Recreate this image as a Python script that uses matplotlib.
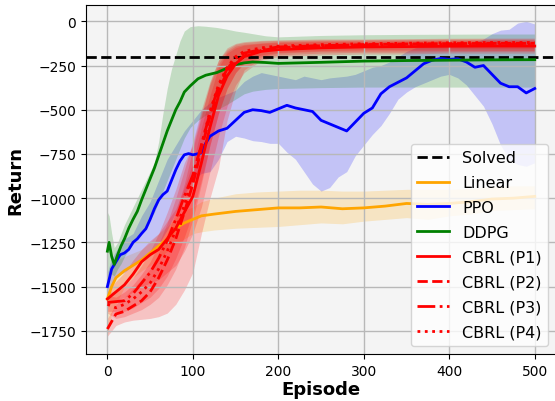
import numpy as np
import matplotlib
matplotlib.use("Agg")
import matplotlib.pyplot as plt

solved = -200

# Linear
lin_ep = [0, 5, 10, 20, 30, 40, 50, 60, 70, 80, 90, 100, 110, 125, 150, 175, 200, 225, 250,
          275, 300, 325, 350, 375, 400, 425, 450, 475, 500]
lin_mean = [-1570, -1500, -1450, -1410, -1380, -1350, -1310, -1270, -1230, -1170, -1140, -1120,
            -1100, -1090, -1075, -1065, -1055, -1055, -1050, -1060, -1055, -1045, -1030, -1035,
            -1030, -1020, -1005, -1000, -990]
lin_lo = [-1780, -1650, -1600, -1500, -1450, -1410, -1380, -1340, -1300, -1260, -1230, -1200,
          -1190, -1180, -1170, -1165, -1160, -1150, -1140, -1145, -1130, -1120, -1110, -1120,
          -1100, -1090, -1070, -1065, -1060]
lin_hi = [-1450, -1400, -1350, -1330, -1310, -1290, -1250, -1200, -1160, -1110, -1070, -1050,
          -1020, -1000, -975, -965, -960, -955, -955, -960, -960, -955, -950, -950, -950,
          -945, -935, -930, -930]

# PPO
ppo_ep = [0, 5, 10, 15, 20, 25, 30, 35, 40, 45, 50, 55, 60, 65, 70, 75, 80, 85, 90, 95, 100,
          105, 110, 115, 120, 130, 140, 150, 160, 170, 180, 190, 200, 210, 220, 230, 240, 250,
          260, 270, 280, 290, 300, 310, 320, 330, 340, 350, 360, 370, 380, 390, 400, 410, 420,
          430, 440, 450, 460, 470, 480, 490, 500]
ppo_mean = [-1500, -1400, -1360, -1320, -1310, -1290, -1250, -1230, -1200, -1173, -1120, -1060,
            -1010, -980, -960, -900, -840, -790, -755, -748, -755, -750, -745, -690, -650, -620,
            -605, -560, -515, -500, -505, -515, -495, -475, -490, -500, -510, -560, -580, -600,
            -620, -570, -520, -490, -410, -370, -345, -320, -280, -240, -220, -210, -215, -212,
            -230, -260, -250, -300, -350, -370, -370, -405, -380]
ppo_lo = [-1560, -1500, -1450, -1430, -1420, -1400, -1380, -1365, -1350, -1335, -1320, -1290,
          -1260, -1220, -1180, -1130, -1080, -1030, -980, -940, -900, -880, -860, -855, -850,
          -780, -680, -650, -660, -675, -680, -690, -690, -740, -780, -850, -920, -960, -940,
          -880, -850, -760, -700, -640, -590, -520, -440, -400, -370, -350, -330, -310, -300,
          -320, -360, -420, -480, -580, -700, -780, -810, -820, -800]
ppo_hi = [-1420, -1340, -1300, -1260, -1230, -1215, -1200, -1150, -1100, -1060, -1020, -960,
          -900, -840, -780, -740, -700, -660, -620, -590, -560, -530, -500, -480, -460, -430,
          -410, -390, -340, -310, -290, -300, -310, -320, -330, -310, -320, -330, -320, -315,
          -310, -300, -280, -260, -250, -230, -200, -170, -150, -140, -135, -130, -140, -140,
          -135, -120, -100, -70, -50, -45, -10, 0, -15]

# DDPG
ddpg_ep = [0, 2, 5, 8, 12, 16, 20, 25, 30, 35, 40, 45, 50, 55, 60, 65, 70, 75, 80, 85, 90, 97,
           106, 115, 128, 140, 150, 160, 170, 185, 200, 250, 300, 350, 400, 450, 500]
ddpg_mean = [-1300, -1250, -1330, -1375, -1320, -1270, -1230, -1170, -1120, -1075, -1010, -950,
             -890, -830, -760, -690, -620, -560, -500, -455, -400, -365, -325, -305, -290, -265,
             -245, -235, -230, -233, -238, -232, -225, -222, -220, -218, -217]
ddpg_lo = [-1450, -1420, -1430, -1440, -1400, -1370, -1330, -1290, -1260, -1230, -1200, -1160,
           -1120, -1080, -1020, -960, -900, -840, -780, -720, -660, -600, -560, -530, -500,
           -470, -440, -410, -395, -385, -380, -375, -372, -372, -372, -372, -372]
ddpg_hi = [-1080, -1100, -1200, -1280, -1250, -1200, -1150, -1100, -1050, -1000, -950, -900,
           -850, -800, -680, -520, -380, -270, -190, -110, -55, -30, -25, -28, -35, -45, -55,
           -62, -70, -82, -88, -80, -76, -74, -73, -72, -72]

# CBRL (P1..P4)
cbrl_ep = [0, 10, 20, 30, 40, 50, 60, 70, 80, 90, 100, 110, 120, 130, 140, 150, 160, 180, 200,
           250, 300, 350, 400, 450, 500]
p1_mean = [-1570, -1530, -1490, -1430, -1360, -1320, -1290, -1230, -1170, -1080, -990, -800,
           -600, -420, -310, -240, -200, -170, -160, -150, -145, -143, -141, -140, -140]
p1_lo = [-1600, -1580, -1560, -1530, -1500, -1480, -1460, -1420, -1380, -1300, -1200, -1050,
         -850, -650, -480, -360, -290, -220, -200, -190, -185, -185, -180, -180, -180]
p1_hi = [-1530, -1470, -1420, -1350, -1290, -1240, -1200, -1130, -1060, -940, -800, -600,
         -420, -260, -180, -150, -135, -125, -120, -115, -115, -112, -110, -110, -110]
p2_mean = [-1740, -1655, -1640, -1610, -1580, -1530, -1450, -1350, -1230, -1080, -920, -720,
           -540, -390, -290, -230, -195, -165, -150, -138, -132, -128, -126, -125, -125]
p2_lo = [-1780, -1720, -1700, -1690, -1685, -1680, -1670, -1650, -1600, -1520, -1420, -1200,
         -1000, -830, -560, -390, -275, -210, -190, -180, -175, -175, -172, -170, -170]
p2_hi = [-1680, -1600, -1560, -1510, -1460, -1400, -1310, -1200, -1080, -920, -720, -540,
         -350, -220, -150, -125, -115, -108, -105, -100, -100, -98, -96, -95, -95]
p3_mean = [-1590, -1585, -1580, -1540, -1480, -1420, -1340, -1240, -1120, -990, -870, -700,
           -520, -370, -270, -210, -180, -160, -145, -138, -134, -132, -131, -130, -130]
p3_lo = [-1640, -1640, -1640, -1620, -1590, -1560, -1510, -1440, -1340, -1220, -1080, -900,
         -700, -520, -380, -290, -240, -200, -180, -170, -168, -166, -165, -165, -165]
p3_hi = [-1540, -1520, -1500, -1450, -1380, -1300, -1200, -1080, -950, -800, -700, -520,
         -360, -240, -170, -140, -130, -122, -115, -110, -108, -106, -105, -105, -105]
p4_mean = [-1600, -1620, -1600, -1570, -1530, -1480, -1400, -1300, -1180, -1040, -880, -700,
           -510, -360, -260, -200, -170, -150, -140, -132, -127, -124, -122, -120, -120]
p4_lo = [-1650, -1680, -1670, -1650, -1630, -1600, -1560, -1490, -1400, -1280, -1120, -920,
         -700, -520, -380, -290, -230, -190, -175, -165, -160, -158, -156, -155, -155]
p4_hi = [-1550, -1560, -1530, -1490, -1430, -1360, -1260, -1140, -1000, -840, -680, -500,
         -340, -220, -160, -130, -120, -112, -108, -105, -103, -102, -100, -100, -100]


def main() -> None:
    fig = plt.figure(figsize=(5.55, 4.02), dpi=100)
    ax = fig.add_axes([0.155, 0.117, 0.847, 0.868])
    ax.set_facecolor("#f4f4f4")

    ax.axhline(solved, color="black", ls="--", lw=2, label="Solved")

    ax.fill_between(lin_ep, lin_lo, lin_hi, color="orange", alpha=0.2, lw=0)
    ax.plot(lin_ep, lin_mean, color="orange", lw=2, label="Linear")

    ax.fill_between(ppo_ep, ppo_lo, ppo_hi, color="blue", alpha=0.2, lw=0)
    ax.plot(ppo_ep, ppo_mean, color="blue", lw=2, label="PPO")

    ax.fill_between(ddpg_ep, ddpg_lo, ddpg_hi, color="green", alpha=0.2, lw=0)
    ax.plot(ddpg_ep, ddpg_mean, color="green", lw=2, label="DDPG")

    cbrl = [(p1_mean, p1_lo, p1_hi, "-", "CBRL (P1)"),
            (p2_mean, p2_lo, p2_hi, "--", "CBRL (P2)"),
            (p3_mean, p3_lo, p3_hi, "-.", "CBRL (P3)"),
            (p4_mean, p4_lo, p4_hi, ":", "CBRL (P4)")]
    for mean, lo, hi, ls, lab in cbrl:
        ax.fill_between(cbrl_ep, lo, hi, color="red", alpha=0.2, lw=0)
        ax.plot(cbrl_ep, mean, color="red", ls=ls, lw=2, label=lab)

    ax.set_xlim(-25, 525)
    ax.set_ylim(-1881, 92)
    ax.set_xticks([0, 100, 200, 300, 400, 500])
    ax.set_yticks([0, -250, -500, -750, -1000, -1250, -1500, -1750])
    ax.tick_params(labelsize=10)
    ax.grid(True, color="#b8b8b8", lw=1)
    ax.set_xlabel("Episode", fontsize=13, fontweight="bold", labelpad=2)
    ax.set_ylabel("Return", fontsize=13, fontweight="bold")
    ax.legend(loc="lower right", fontsize=11.5, labelspacing=0.62)

    fig.savefig("out.png", dpi=100)


if __name__ == "__main__":
    main()
